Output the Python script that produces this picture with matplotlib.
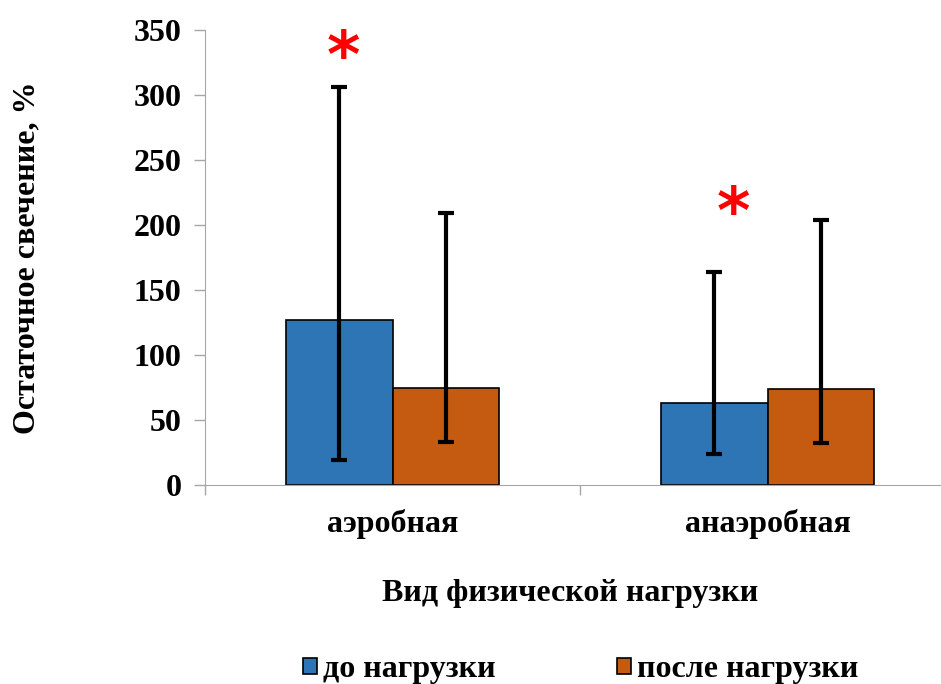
import matplotlib.pyplot as plt
import numpy as np

categories = ["аэробная", "анаэробная"]
series_names = ["до нагрузки", "после нагрузки"]
before = [127, 63]
after = [75, 74]
before_lo = [19, 24]
before_hi = [306, 164]
after_lo = [33, 32]
after_hi = [209, 204]
# asterisk marks: (x in category units, y value)
stars_x = [-0.13, 0.91]
stars_y = [328, 208]

blue = "#2E75B6"
orange = "#C55A11"


def main():
    plt.rcParams['font.family'] = ['Liberation Serif', 'DejaVu Serif']
    plt.rcParams['font.weight'] = 'bold'
    fs = 23

    fig = plt.figure(figsize=(9.41, 6.84), dpi=100)
    ax = fig.add_axes([205 / 941, 199 / 684, 750 / 941, 455 / 684])

    x = np.arange(len(categories))
    w = 0.285
    b = np.array(before)
    a = np.array(after)
    ax.bar(x - w / 2, b, w, color=blue, edgecolor='black', linewidth=1.2,
           label=series_names[0], zorder=2)
    ax.bar(x + w / 2, a, w, color=orange, edgecolor='black', linewidth=1.2,
           label=series_names[1], zorder=2)

    err_b = [b - np.array(before_lo), np.array(before_hi) - b]
    err_a = [a - np.array(after_lo), np.array(after_hi) - a]
    ax.errorbar(x - w / 2, b, yerr=err_b, fmt='none', ecolor='black',
                elinewidth=3, capsize=6, capthick=3, zorder=3)
    ax.errorbar(x + w / 2, a, yerr=err_a, fmt='none', ecolor='black',
                elinewidth=3, capsize=6, capthick=3, zorder=3)

    for sx, sy in zip(stars_x, stars_y):
        ax.text(sx, sy, "*", color='red', fontsize=46, ha='center', va='center',
                fontfamily='DejaVu Sans', fontweight='bold')

    ax.set_xlim(-0.5, 1.5)
    ax.set_ylim(0, 350)
    ax.set_yticks(range(0, 351, 50))
    ax.set_xticks([-0.5, 0.5, 1.5], minor=True)
    ax.set_xticks(x)
    ax.set_xticklabels(categories, fontsize=fs, fontweight='bold')
    ax.tick_params(axis='x', which='major', length=0, pad=17)
    ax.tick_params(axis='x', which='minor', length=7, color='#A6A6A6', width=1)
    ax.tick_params(axis='y', length=8, color='#A6A6A6', width=1, labelsize=fs, pad=9)
    for lab in ax.get_yticklabels():
        lab.set_fontweight('bold')

    for s in ['top', 'right']:
        ax.spines[s].set_visible(False)
    ax.spines['left'].set_color('#A6A6A6')
    ax.spines['bottom'].set_color('#A6A6A6')

    ax.set_ylabel("Остаточное свечение, %", fontsize=fs, fontweight='bold')
    ax.yaxis.set_label_coords(-(205 - 41) / 750, 0.5)
    fig.text(570 / 941, 1 - 594 / 684, "Вид физической нагрузки", fontsize=fs,
             fontweight='bold', ha='center', va='center')

    fig.legend(loc='center', bbox_to_anchor=(581 / 941, 1 - 670 / 684), ncol=2,
               frameon=False, fontsize=fs, handlelength=0.43, handleheight=0.43,
               handletextpad=0.2, columnspacing=3.8)

    fig.savefig("out.png", dpi=100)


if __name__ == "__main__":
    main()
